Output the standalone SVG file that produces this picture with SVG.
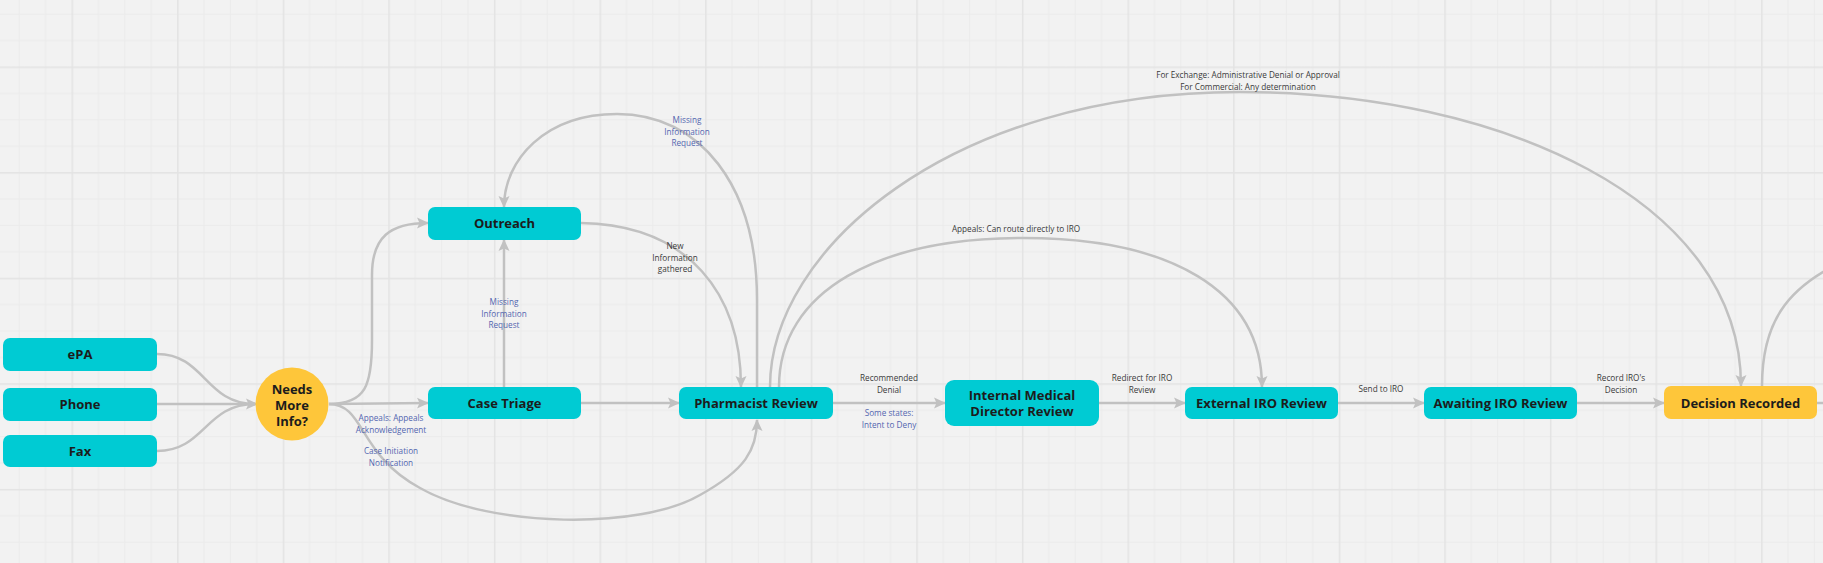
<svg xmlns="http://www.w3.org/2000/svg" width="1823" height="563" viewBox="0 0 1823 563">
<defs>
<pattern id="grid" patternUnits="userSpaceOnUse" x="71.5" y="66.5" width="105.6" height="105.6">
<rect x="0" y="0" width="105.6" height="105.6" fill="#f2f2f2"/>
<rect x="26.4" y="0" width="1" height="105.6" fill="#ebebeb"/>
<rect x="52.8" y="0" width="1" height="105.6" fill="#ebebeb"/>
<rect x="79.2" y="0" width="1" height="105.6" fill="#ebebeb"/>
<rect x="0" y="26.4" width="105.6" height="1" fill="#ebebeb"/>
<rect x="0" y="52.8" width="105.6" height="1" fill="#ebebeb"/>
<rect x="0" y="79.2" width="105.6" height="1" fill="#ebebeb"/>
<rect x="0" y="0" width="1.5" height="105.6" fill="#e3e3e3"/>
<rect x="0" y="0" width="105.6" height="1.5" fill="#e3e3e3"/>
</pattern>
<marker id="arr" viewBox="0 0 12 12" refX="11" refY="6" markerWidth="12" markerHeight="12" markerUnits="userSpaceOnUse" orient="auto">
<path d="M0,0.5 L12,6 L0,11.5 L2.5,6 z" fill="#c1c1c1"/>
</marker>
<style>
.n{fill:#00cbd3}
.y{fill:#fec63a}
.t{font-family:"Open Sans","Liberation Sans",sans-serif;font-weight:700;font-size:13px;fill:#1c1c1c;text-anchor:middle}
.c{fill:none;stroke:#c1c1c1;stroke-width:2.5}
.a{marker-end:url(#arr)}
.l{font-family:"Open Sans","Liberation Sans",sans-serif;font-size:8.2px;fill:#3a3a3a;text-anchor:middle}
.b{fill:#5366b0}
</style>
</defs>
<rect width="1823" height="563" fill="url(#grid)"/>

<g id="connectors">
<path class="c" d="M157,354 C205,354 205,404 255,404"/>
<path class="c a" d="M157,404 L257,404"/>
<path class="c" d="M157,451 C205,451 205,404 255,404"/>
<path class="c a" d="M329,404 C366,404 372,385 372,340 L372,275 C372,237 390,223 428,223"/>
<path class="c a" d="M329,404 L428,403"/>
<path class="c a" d="M329,404 C365,404 358,455 420,488 C490,528 640,530 700,495 C745,470 757,450 757,420"/>
<path class="c a" d="M581,403 L679,403"/>
<path class="c a" d="M504,387 L504,240"/>
<path class="c a" d="M581,223 C690,225 741,295 741,387"/>
<path class="c a" d="M757,387 L757,300 C757,185 700,114 617,114 C545,114 504,160 504,207"/>
<path class="c a" d="M770,387 C770,250 950,92 1240,92 C1500,92 1741,200 1741,386"/>
<path class="c a" d="M779,387 C779,290 880,238 1023,238 C1170,238 1262,290 1262,387"/>
<path class="c a" d="M833,403 L945,403"/>
<path class="c a" d="M1099,403 L1185,403"/>
<path class="c a" d="M1338,403 L1424,403"/>
<path class="c a" d="M1577,403 L1664,403"/>
<path class="c" d="M1817,403 L1830,403"/>
<path class="c" d="M1762,386 C1762,320 1790,290 1830,268"/>
</g>

<g id="labels">
<text class="l b" x="687" y="123">Missing</text>
<text class="l b" x="687" y="134.5">Information</text>
<text class="l b" x="687" y="146">Request</text>
<text class="l" x="675" y="249">New</text>
<text class="l" x="675" y="260.5">Information</text>
<text class="l" x="675" y="272">gathered</text>
<text class="l b" x="504" y="305">Missing</text>
<text class="l b" x="504" y="316.5">Information</text>
<text class="l b" x="504" y="328">Request</text>
<text class="l b" x="391" y="421">Appeals: Appeals</text>
<text class="l b" x="391" y="432.5">Acknowledgement</text>
<text class="l b" x="391" y="454">Case Initiation</text>
<text class="l b" x="391" y="465.5">Notification</text>
<text class="l" x="889" y="381">Recommended</text>
<text class="l" x="889" y="392.5">Denial</text>
<text class="l b" x="889" y="416">Some states:</text>
<text class="l b" x="889" y="427.5">Intent to Deny</text>
<text class="l" x="1142" y="381">Redirect for IRO</text>
<text class="l" x="1142" y="392.5">Review</text>
<text class="l" x="1381" y="392">Send to IRO</text>
<text class="l" x="1621" y="381">Record IRO's</text>
<text class="l" x="1621" y="392.5">Decision</text>
<text class="l" x="1248" y="78">For Exchange: Administrative Denial or Approval</text>
<text class="l" x="1248" y="89.5">For Commercial: Any determination</text>
<text class="l" x="1016" y="232">Appeals: Can route directly to IRO</text>
</g>

<g id="epa"><rect class="n" x="3" y="338" width="154" height="33" rx="7"/><text class="t" x="80" y="359">ePA</text></g>
<g id="phone"><rect class="n" x="3" y="388" width="154" height="33" rx="7"/><text class="t" x="80" y="409">Phone</text></g>
<g id="fax"><rect class="n" x="3" y="435" width="154" height="32" rx="7"/><text class="t" x="80" y="455.5">Fax</text></g>
<g id="needs-more-info"><circle class="y" cx="292" cy="404" r="36.5"/><text class="t" x="292" y="393.5">Needs</text><text class="t" x="292" y="409.5">More</text><text class="t" x="292" y="425.5">Info?</text></g>
<g id="outreach"><rect class="n" x="428" y="207" width="153" height="33" rx="7"/><text class="t" x="504.5" y="228">Outreach</text></g>
<g id="case-triage"><rect class="n" x="428" y="387" width="153" height="32" rx="7"/><text class="t" x="504.5" y="407.5">Case Triage</text></g>
<g id="pharmacist-review"><rect class="n" x="679" y="387" width="154" height="32" rx="7"/><text class="t" x="756" y="407.5">Pharmacist Review</text></g>
<g id="internal-medical-director-review"><rect class="n" x="945" y="380" width="154" height="46" rx="9"/><text class="t" x="1022" y="399.5">Internal Medical</text><text class="t" x="1022" y="415.5">Director Review</text></g>
<g id="external-iro-review"><rect class="n" x="1185" y="387" width="153" height="32" rx="7"/><text class="t" x="1261.5" y="407.5">External IRO Review</text></g>
<g id="awaiting-iro-review"><rect class="n" x="1424" y="387" width="153" height="32" rx="7"/><text class="t" x="1500.5" y="407.5">Awaiting IRO Review</text></g>
<g id="decision-recorded"><rect class="y" x="1664" y="386" width="153" height="33" rx="7"/><text class="t" x="1740.5" y="407.5">Decision Recorded</text></g>
</svg>
